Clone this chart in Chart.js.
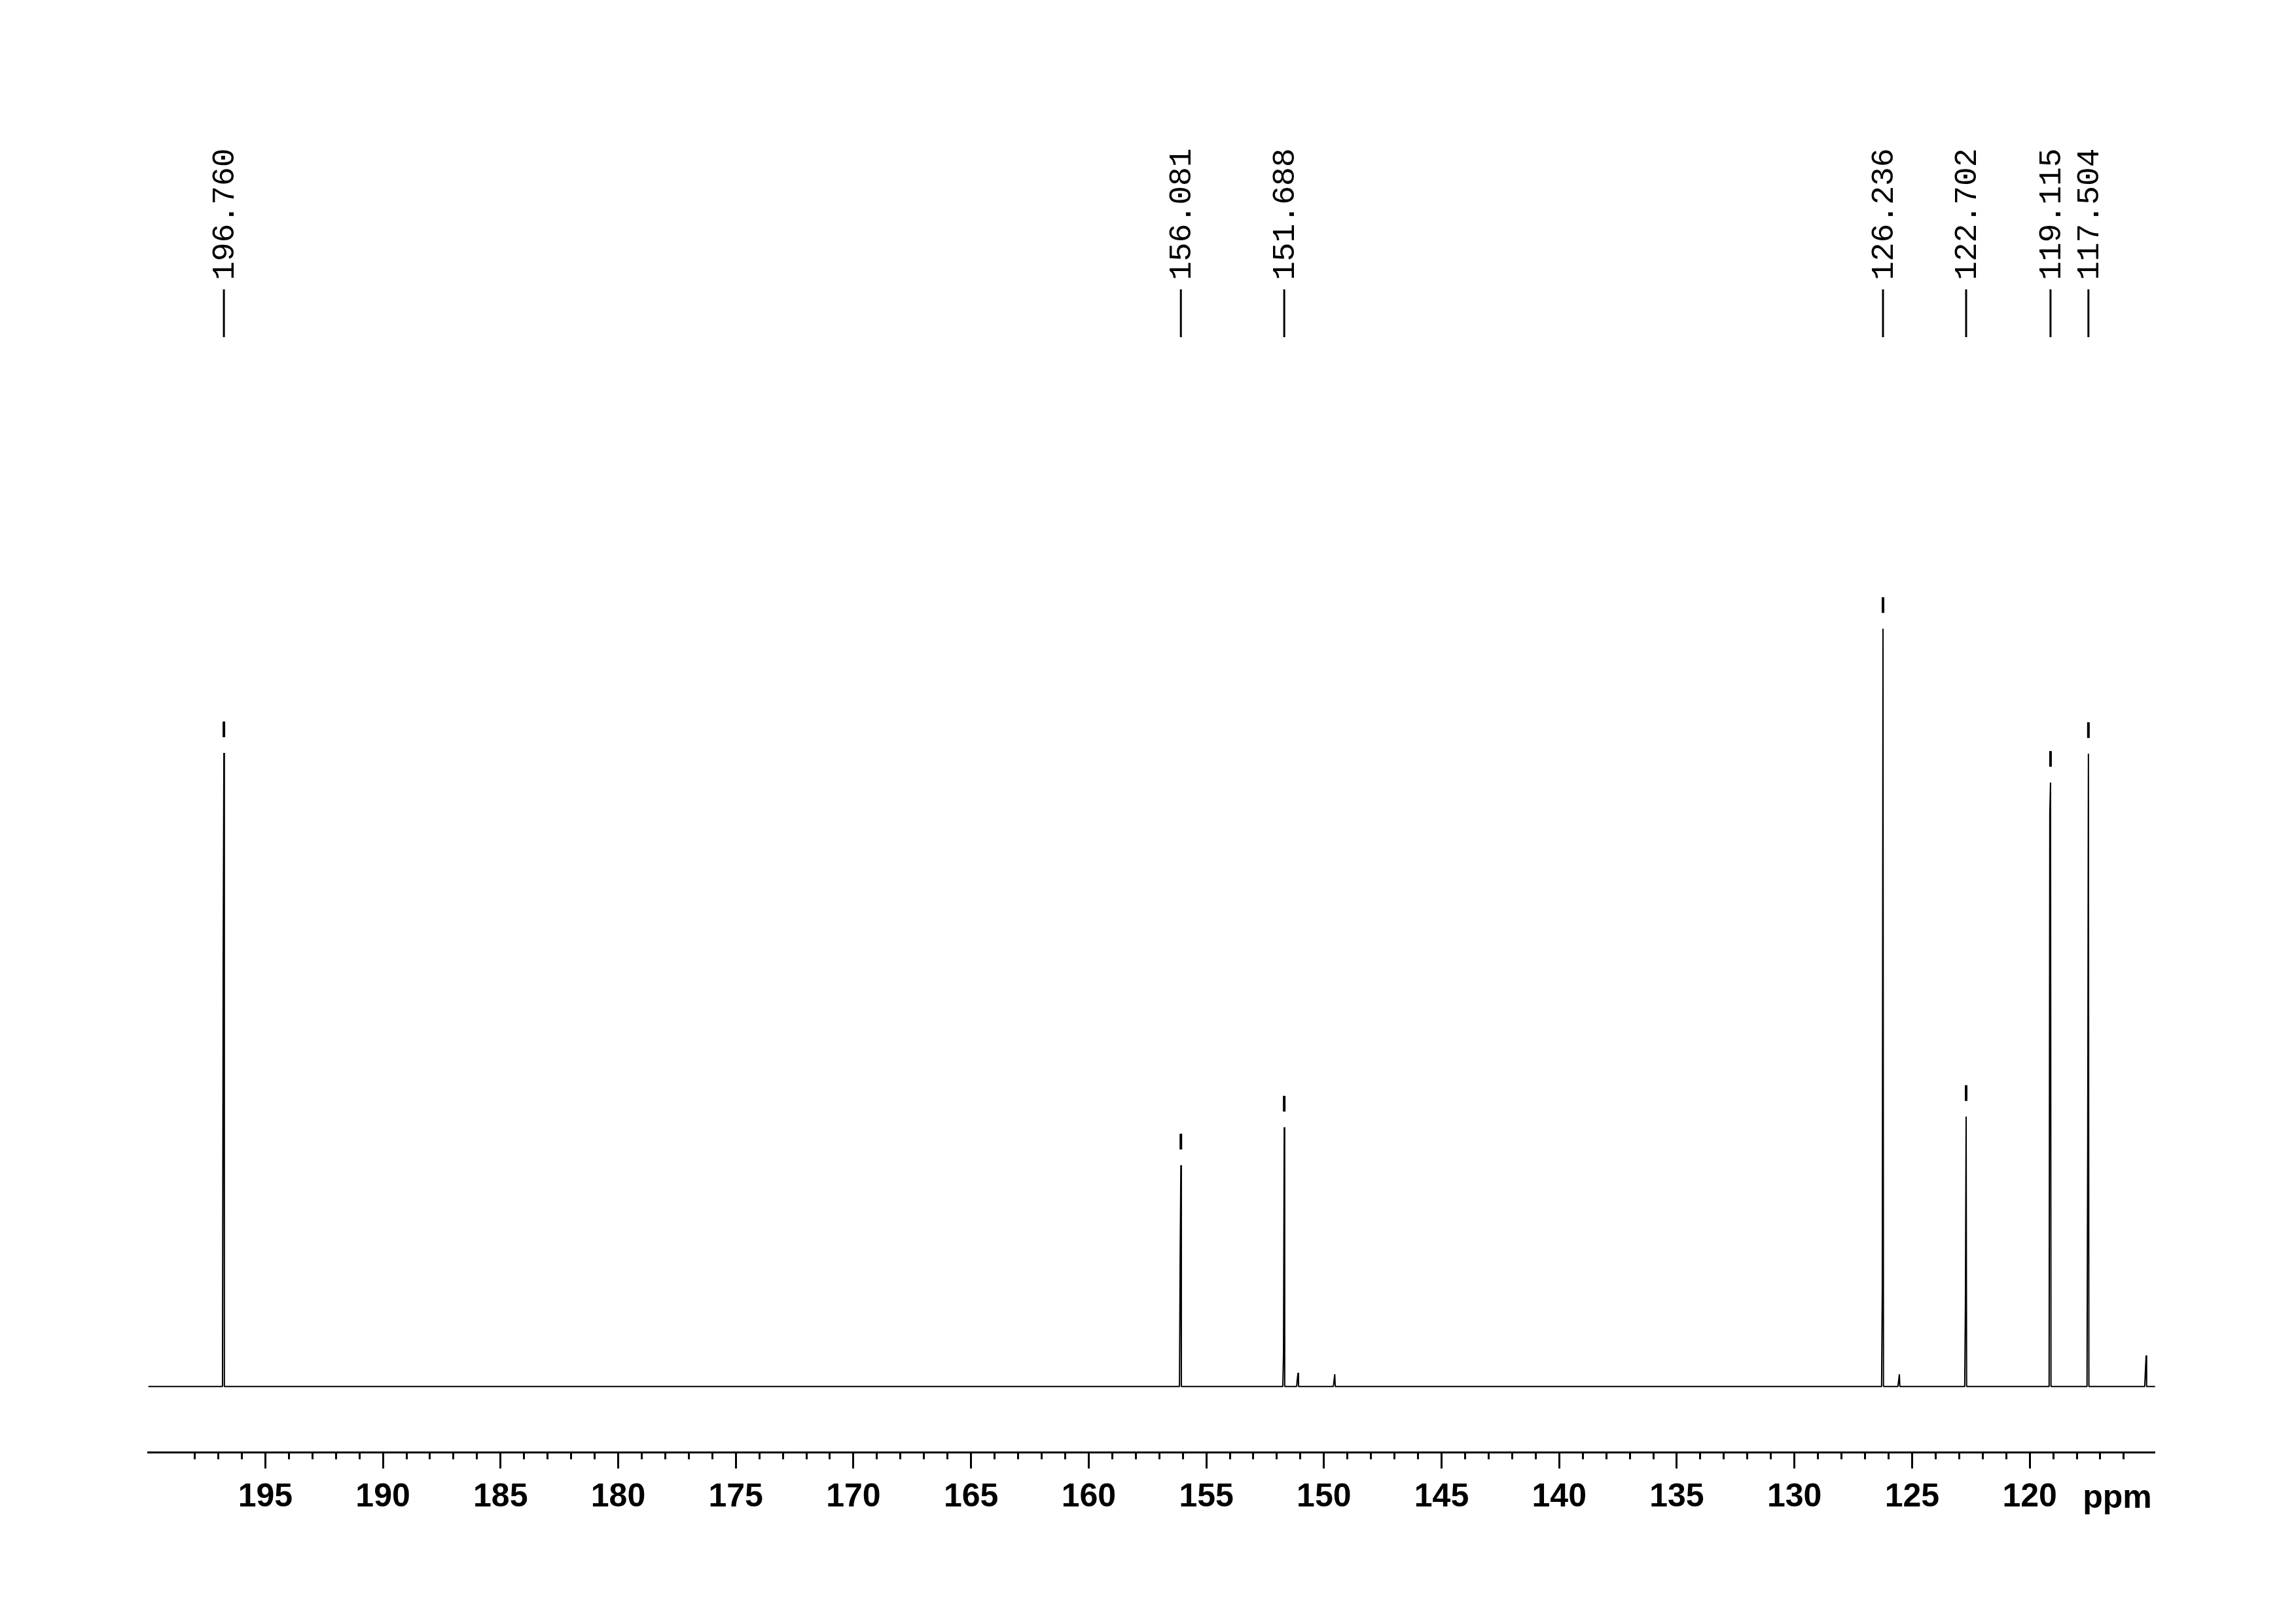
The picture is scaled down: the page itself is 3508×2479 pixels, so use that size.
<!DOCTYPE html>
<html>
<head>
<meta charset="utf-8">
<title>13C NMR spectrum</title>
<script src="https://cdn.jsdelivr.net/npm/chart.js@4.4.1/dist/chart.umd.min.js"></script>
<style>
  html, body { margin: 0; padding: 0; background: #fff; }
  canvas { display: block; }
</style>
</head>
<body>
<canvas id="spectrum" width="3508" height="2479"></canvas>
<script>
// picked peaks (ppm) and their heights, tallest peak (126.236) = 100
const peakPpm = [196.760, 156.081, 151.688, 126.236, 122.702, 119.115, 117.504];
const peakHeight = [83.6, 29.2, 34.2, 100.0, 35.6, 79.7, 83.5];
// height up to which the spike is drawn doubled (darker lower part)
const peakShoulder = [57.0, 17.0, 4.5, 12.6, 11.1, 75.7, 32.0];

// small unlabelled signals
const minorPpm = [151.10, 149.54, 125.54, 115.05];
const minorHeight = [1.8, 1.6, 1.6, 4.1];
const minorShoulder = [1.0, 0.8, 0.8, 2.2];

const ppmMin = 114.67;
const ppmMax = 199.97;
const intensityMin = -8.67;
const intensityMax = 148.4;

const canvas = document.getElementById('spectrum');

// the axis numbers are a condensed bold face; use the narrow Liberation if it is there
function hasFont(family) {
    const c = document.createElement('canvas').getContext('2d');
    c.font = 'bold 100px monospace';
    const base = c.measureText('195 190 ppm').width;
    c.font = `bold 100px "${family}", monospace`;
    return c.measureText('195 190 ppm').width !== base;
}
const narrow = hasFont('Liberation Sans Narrow');
const axisFont = narrow
    ? { family: '"Liberation Sans Narrow", "Liberation Sans", sans-serif', size: 54, weight: 'bold' }
    : { family: '"Liberation Sans", Arial, sans-serif', size: 50, weight: 'bold' };
const axisPadding = narrow ? 11 : 14.5;

function buildTrace() {
    const spikes = [];
    peakPpm.forEach((p, i) => spikes.push([p, peakHeight[i], peakShoulder[i]]));
    minorPpm.forEach((p, i) => spikes.push([p, minorHeight[i], minorShoulder[i]]));
    spikes.sort((a, b) => b[0] - a[0]);
    const points = [{ x: ppmMax, y: 0 }];
    spikes.forEach(([p, h, s]) => {
        points.push({ x: p + 0.06, y: 0 });
        points.push({ x: p + 0.03, y: s });
        points.push({ x: p, y: h });
        points.push({ x: p - 0.02, y: 0 });
    });
    points.push({ x: ppmMin, y: 0 });
    return points;
}

// peak-pick markers above each peak + rotated ppm labels at the top
const peakMarks = {
    id: 'peakMarks',
    afterDatasetsDraw(chart) {
        const { ctx, scales: { x, y } } = chart;
        ctx.save();
        ctx.fillStyle = '#000';
        ctx.strokeStyle = '#000';
        peakPpm.forEach((p, i) => {
            const px = x.getPixelForValue(p);
            const top = y.getPixelForValue(peakHeight[i]);
            ctx.fillRect(px - 2, top - 48, 4, 24);

            ctx.lineWidth = 3;
            ctx.beginPath();
            ctx.moveTo(px, 442);
            ctx.lineTo(px, 515);
            ctx.stroke();

            ctx.save();
            ctx.translate(px + 15, 428);
            ctx.rotate(-Math.PI / 2);
            ctx.font = '48px "Liberation Mono", "DejaVu Sans Mono", monospace';
            ctx.textAlign = 'left';
            ctx.textBaseline = 'alphabetic';
            ctx.fillText(p.toFixed(3), 0, 0);
            ctx.restore();
        });
        ctx.font = `${axisFont.weight} ${axisFont.size}px ${axisFont.family}`;
        ctx.textAlign = 'right';
        ctx.textBaseline = 'alphabetic';
        ctx.fillText('ppm', x.right - 5, x.top + 85);
        ctx.restore();
    }
};

new Chart(canvas, {
    type: 'scatter',
    data: {
        datasets: [{
            data: buildTrace(),
            showLine: true,
            borderColor: '#000',
            borderWidth: 2,
            borderJoinStyle: 'bevel',
            pointRadius: 0,
            tension: 0,
            clip: false
        }]
    },
    options: {
        responsive: false,
        animation: false,
        devicePixelRatio: 1,
        events: [],
        layout: {
            padding: { left: 226.7, right: 215.3, top: 400, bottom: 0 }
        },
        plugins: {
            legend: { display: false },
            tooltip: { enabled: false }
        },
        scales: {
            x: {
                type: 'linear',
                reverse: true,
                min: ppmMin,
                max: ppmMax,
                afterBuildTicks: scale => {
                    scale.ticks = scale.ticks.filter(t => Number.isInteger(t.value));
                },
                afterFit: scale => {
                    scale.height = 261;
                },
                border: { display: true, color: '#000', width: 3 },
                grid: {
                    drawOnChartArea: false,
                    drawTicks: true,
                    tickLength: 25,
                    tickWidth: 3,
                    tickColor: '#000',
                    tickBorderDash: ctx => (ctx.tick && ctx.tick.value % 5 === 0) ? [] : [9, 200]
                },
                ticks: {
                    stepSize: 1,
                    autoSkip: false,
                    maxRotation: 0,
                    maxTicksLimit: 200,
                    padding: axisPadding,
                    color: '#000',
                    font: axisFont,
                    callback: value => (value % 5 === 0 && value !== 115) ? String(value) : ''
                }
            },
            y: {
                display: false,
                min: intensityMin,
                max: intensityMax
            }
        }
    },
    plugins: [peakMarks]
});
</script>
</body>
</html>
